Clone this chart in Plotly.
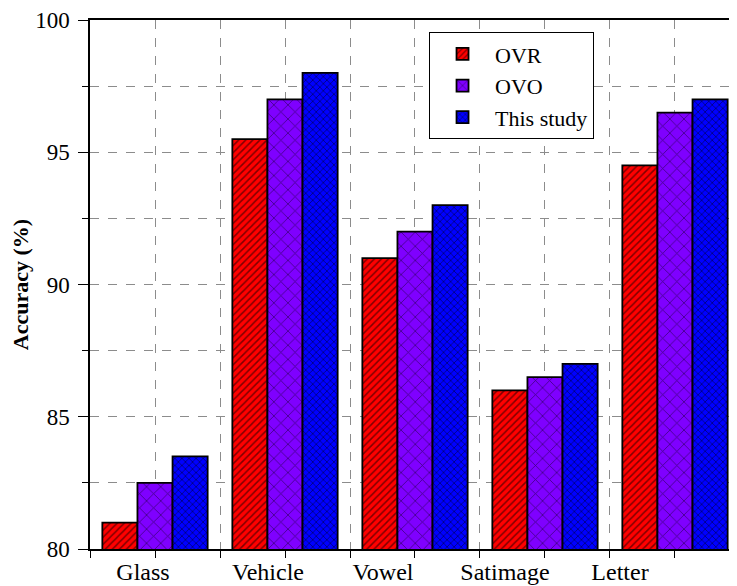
import plotly.graph_objects as go

categories = ["Glass", "Vehicle", "Vowel", "Satimage", "Letter"]
ovr = [81.0, 95.5, 91.0, 86.0, 94.5]
ovo = [82.5, 97.0, 92.0, 86.5, 96.5]
this_study = [83.5, 98.0, 93.0, 87.0, 97.0]
y_ticks = [80, 85, 90, 95, 100]

xpos = list(range(len(categories)))
FONT = "Liberation Serif"

# styling: the category labels in the original sit left of their bar groups (pixels)
LABEL_SHIFT_PX = [-12, -17, -32, -40, -55]
PX_PER_CAT = 130.0
label_pos = [i + s / PX_PER_CAT for i, s in zip(xpos, LABEL_SHIFT_PX)]

fig = go.Figure()
series = [
    ("OVR", ovr, "#FF0000", "/", 5, 0.3),
    ("OVO", ovo, "#7F00FF", "x", 10, 0.15),
    ("This study", this_study, "#0000FF", "x", 5, 0.3),
]
for name, vals, col, shape, sz, sol in series:
    fig.add_trace(go.Bar(
        x=xpos, y=vals, name=name,
        marker=dict(color=col, line=dict(color="black", width=1.8),
                    pattern=dict(shape=shape, fgcolor="black", bgcolor=col,
                                 size=sz, solidity=sol, fillmode="overlay")),
    ))

# page body has an 8px margin, so the figure is sized/offset accordingly
fig.update_layout(
    width=729, height=578,
    margin=dict(l=82, r=0, t=12, b=37),
    paper_bgcolor="white", plot_bgcolor="white",
    barmode="group", bargap=0.19, bargroupgap=0,
    font=dict(family=FONT, size=22, color="black"),
    legend=dict(x=0.524, y=0.977, xanchor="left", yanchor="top",
                bordercolor="black", borderwidth=1, bgcolor="white",
                font=dict(family=FONT, size=22), tracegroupgap=0,
                itemwidth=55),
    showlegend=True,
)
fig.update_xaxes(
    range=[-0.5, 4.477], tickvals=label_pos, ticktext=categories,
    ticks="", showgrid=False,
    showline=True, linecolor="black", linewidth=1.5, mirror=True,
    minor=dict(tick0=0, dtick=0.5, ticks="outside", ticklen=7, tickcolor="black",
               tickwidth=1.2,
               showgrid=True, gridcolor="#8c8c8c", griddash="dash", gridwidth=1.2),
    tickfont=dict(family=FONT, size=24), zeroline=False,
)
fig.update_yaxes(
    range=[80, 100], tickvals=y_ticks,
    ticks="outside", ticklen=10, tickcolor="black", tickwidth=1.2,
    showline=True, linecolor="black", linewidth=1.5,
    showgrid=True, gridcolor="#8c8c8c", griddash="dash", gridwidth=1.2,
    minor=dict(tick0=80, dtick=2.5, ticks="outside", ticklen=6, tickcolor="black",
               showgrid=True, gridcolor="#8c8c8c", griddash="dash", gridwidth=1.2),
    tickfont=dict(family=FONT, size=23), zeroline=False, ticklabelstandoff=4,
    title=dict(text="<b>Accuracy (%)</b>", font=dict(family=FONT, size=22), standoff=6),
)
fig.write_html("out.html")
